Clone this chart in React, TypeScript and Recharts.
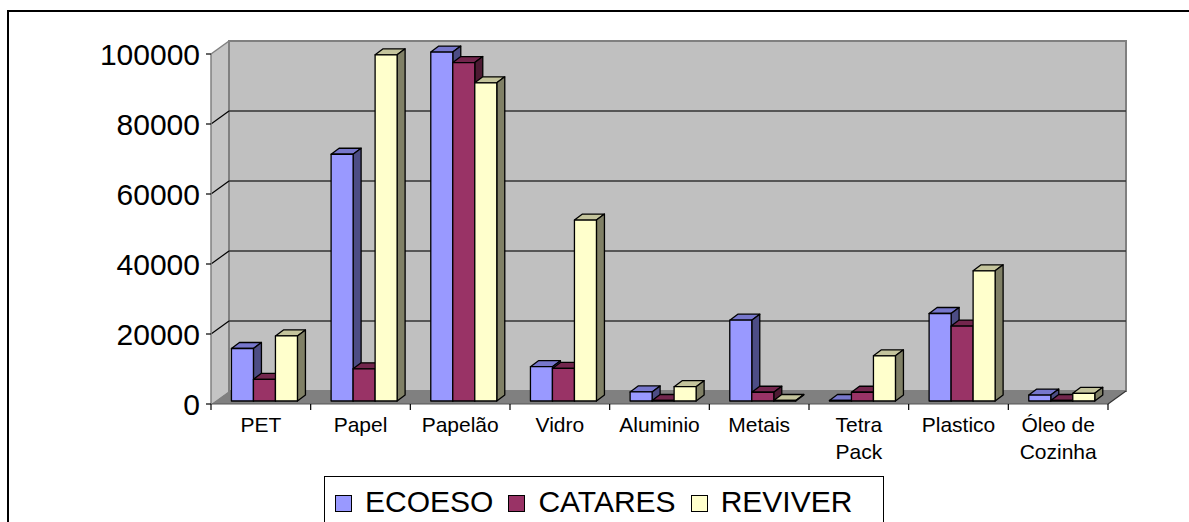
import React from 'react';
import { BarChart, Bar, XAxis, YAxis, CartesianGrid, ReferenceArea } from 'recharts';

const categories = ['PET', 'Papel', 'Papelão', 'Vidro', 'Aluminio', 'Metais', 'Tetra Pack', 'Plastico', 'Óleo de Cozinha'];
const seriesNames = ['ECOESO', 'CATARES', 'REVIVER'];
const ecoeso = [15000, 70500, 99700, 9800, 2600, 23100, 150, 25000, 1700];
const catares = [6200, 9200, 96700, 9300, 150, 2500, 2500, 21400, 150];
const reviver = [18600, 98900, 90900, 51700, 4100, 150, 12900, 37200, 2200];
const yTicks = [0, 20000, 40000, 60000, 80000, 100000];

const frontColors = ['#9999FF', '#993366', '#FFFFCC'];
const topColors = ['#7777cc', '#73264d', '#c4c49c'];
const sideColors = ['#4d4d85', '#4d1a33', '#808066'];

const data = categories.map((name, i) => ({
  name,
  ECOESO: ecoeso[i],
  CATARES: catares[i],
  REVIVER: reviver[i],
}));

const FONT = '"Liberation Sans", Arial, sans-serif';
const DX = 18;
const DY = 13;
const SX = 4;
const SY = 3;
const BDX = 8;
const BDY = 6;

const WallShape = (p: any) => {
  const { x, y, width: w, height: h } = p;
  if (x == null || y == null) return <g />;
  const B = y + h;
  const R = x + w;
  return (
    <g>
      <polygon points={`${x},${y} ${x + DX},${y - DY} ${x + DX},${B - DY} ${x},${B}`} fill="#c4c4c4" />
      <rect x={x + DX} y={y - DY} width={w} height={h} fill="#c0c0c0" stroke="#808080" strokeWidth={2} />
      <polygon points={`${x},${B} ${x + DX},${B - DY} ${R + DX},${B - DY} ${R},${B}`} fill="#808080" />
      <line x1={x} y1={y} x2={x + DX} y2={y - DY} stroke="#808080" strokeWidth={1.5} />
      <line x1={R} y1={B} x2={R + DX} y2={B - DY} stroke="#333" strokeWidth={1.2} />
    </g>
  );
};

const GridLine = (p: any) => {
  const { x1, y1, x2, y2 } = p;
  if (
    p.y != null &&
    p.height != null &&
    (Math.abs(y1 - p.y) < 1 || Math.abs(y1 - (p.y + p.height)) < 1)
  ) {
    return <g key={p.key} />;
  }
  return (
    <g key={p.key}>
      <line x1={x1} y1={y1} x2={x1 + DX} y2={y1 - DY} stroke="#000" strokeWidth={1.2} />
      <line x1={x1 + DX} y1={y1 - DY} x2={x2 + DX} y2={y2 - DY} stroke="#333" strokeWidth={1.5} />
    </g>
  );
};

const makeBar = (si: number) => (p: any) => {
  const { x, y, width: w, height: h } = p;
  if (x == null || y == null || isNaN(y) || w == null) return <g />;
  const fx = x + SX;
  const fy = y - SY;
  const hh = Math.max(h, 0);
  return (
    <g strokeLinejoin="round">
      <polygon
        points={`${fx},${fy} ${fx + BDX},${fy - BDY} ${fx + w + BDX},${fy - BDY} ${fx + w},${fy}`}
        fill={topColors[si]}
        stroke="#000"
        strokeWidth={1.3}
      />
      <polygon
        points={`${fx + w},${fy} ${fx + w + BDX},${fy - BDY} ${fx + w + BDX},${fy + hh - BDY} ${fx + w},${fy + hh}`}
        fill={sideColors[si]}
        stroke="#000"
        strokeWidth={1.3}
      />
      <rect x={fx} y={fy} width={w} height={hh} fill={frontColors[si]} stroke="#000" strokeWidth={1.3} />
    </g>
  );
};

const CatTick = (p: any) => {
  const { x, y, payload, index } = p;
  const half = payload && payload.offset ? payload.offset : 0;
  const label = String(payload.value);
  const sp = label.lastIndexOf(' ');
  const lines = sp > 0 ? [label.slice(0, sp), label.slice(sp + 1)] : [label];
  const isLast = index === categories.length - 1;
  return (
    <g>
      <line x1={x - half} y1={y} x2={x - half} y2={y + 6} stroke="#000" strokeWidth={1.2} />
      {isLast && <line x1={x + half} y1={y} x2={x + half} y2={y + 6} stroke="#000" strokeWidth={1.2} />}
      <text x={x} y={y + 28} textAnchor="middle" fontSize={21} fontFamily={FONT} fill="#000">
        {lines.map((l, k) => (
          <tspan key={k} x={x} dy={k === 0 ? 0 : 27}>
            {l}
          </tspan>
        ))}
      </text>
    </g>
  );
};

const Legend3 = () => (
  <div
    style={{
      position: 'absolute',
      left: 324,
      top: 476,
      width: 560,
      height: 70,
      border: '1.5px solid #000',
      background: '#fff',
      boxSizing: 'border-box',
      fontFamily: FONT,
      fontSize: 30,
      color: '#000',
      display: 'flex',
      alignItems: 'flex-start',
      paddingLeft: 10,
      paddingTop: 8,
    }}
  >
    {seriesNames.map((n, i) => (
      <div key={n} style={{ display: 'flex', alignItems: 'center', marginRight: 15, lineHeight: '34px' }}>
        <span
          style={{
            display: 'inline-block',
            width: 15,
            height: 15,
            background: frontColors[i],
            border: '1.3px solid #000',
            marginRight: 13,
            marginTop: 2,
          }}
        />
        <span>{n}</span>
      </div>
    ))}
  </div>
);

export default function App() {
  return (
    <div
      style={{
        position: 'absolute',
        left: 0,
        top: 0,
        width: 1189,
        height: 522,
        overflow: 'hidden',
        background: '#fff',
      }}
    >
      <div
        style={{
          position: 'absolute',
          left: 7,
          top: 10,
          width: 1300,
          height: 600,
          borderLeft: '2px solid #000',
          borderTop: '2px solid #000',
        }}
      />
      <div style={{ position: 'absolute', left: 0, top: 0 }}>
        <BarChart
          width={1189}
          height={522}
          data={data}
          margin={{ top: 54, right: 81, bottom: 58, left: 91 }}
          barCategoryGap="16.5%"
          barGap={0}
        >
          <ReferenceArea y1={0} y2={100000} shape={WallShape} ifOverflow="visible" zIndex={-200} />
          <CartesianGrid vertical={false} horizontal={GridLine as any} stroke="#333" />
          {seriesNames.map((n, i) => (
            <Bar key={n} dataKey={n} isAnimationActive={false} shape={makeBar(i)} />
          ))}
          <XAxis
            dataKey="name"
            tickLine={false}
            tickSize={0}
            tickMargin={0}
            axisLine={{ stroke: '#555', strokeWidth: 1.2 }}
            tick={CatTick}
            interval={0}
            height={60}
          />
          <YAxis
            domain={[0, 100000]}
            ticks={yTicks}
            interval={0}
            width={120}
            tickSize={5}
            tickMargin={6}
            tickLine={{ stroke: '#000', strokeWidth: 1.2 }}
            axisLine={{ stroke: '#808080', strokeWidth: 1.5 }}
            tick={{ fontSize: 30, fill: '#000', fontFamily: FONT }}
          />
        </BarChart>
      </div>
      <Legend3 />
    </div>
  );
}
